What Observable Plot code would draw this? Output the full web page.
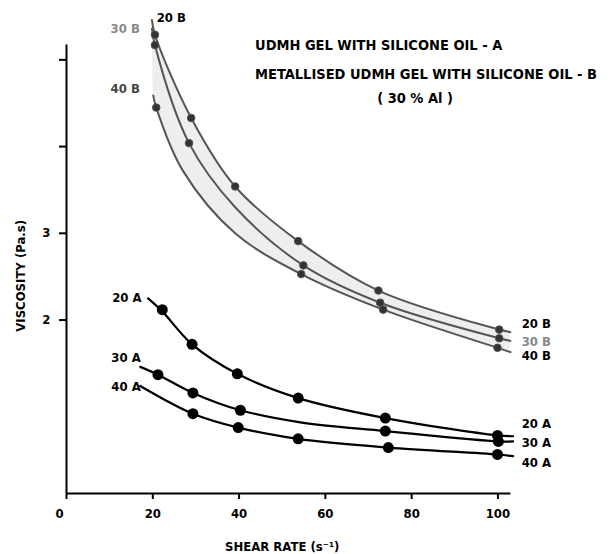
<!DOCTYPE html>
<html>
<head>
<meta charset="utf-8">
<script src="https://cdn.jsdelivr.net/npm/d3@7"></script>
<script src="https://cdn.jsdelivr.net/npm/@observablehq/plot@0.6"></script>
<style>
  html, body { margin: 0; padding: 0; background: #fff; }
  #chart svg { display: block; }
</style>
</head>
<body>
<div id="chart"></div>
<script>
// ---- axis ticks ----
const xTicks = [0, 20, 40, 60, 80, 100];
const yTicks = [2, 3, 4, 5];
const yTickLabels = {2: "2", 3: "3"};

// ---- B series (metallised UDMH gel) : measured markers ----
const b20X = [20.5, 28.9, 39.1, 53.7, 72.3, 100.3];
const b20Y = [5.29, 4.33, 3.54, 2.91, 2.34, 1.89];
const b30X = [20.5, 28.4, 54.9, 72.7, 100.3];
const b30Y = [5.17, 4.04, 2.63, 2.20, 1.79];
const b40X = [20.8, 54.4, 73.4, 99.9];
const b40Y = [4.45, 2.53, 2.12, 1.68];

// ---- B series : curve traces ----
const b20LineX = [19.8, 20.5, 28.9, 39.1, 53.7, 72.3, 100.3, 102.9];
const b20LineY = [5.46, 5.29, 4.33, 3.54, 2.91, 2.34, 1.89, 1.86];
const b30LineX = [19.8, 20.5, 28.4, 39.1, 54.9, 72.7, 100.3, 102.9];
const b30LineY = [5.36, 5.17, 4.04, 3.30, 2.63, 2.20, 1.79, 1.76];
const b40LineX = [20.1, 20.8, 27.0, 39.1, 54.4, 73.4, 99.9, 102.9];
const b40LineY = [4.59, 4.45, 3.72, 3.00, 2.53, 2.12, 1.68, 1.63];

// ---- A series (UDMH gel) : measured markers ----
const a20X = [22.2, 29.1, 39.6, 53.7, 73.9, 99.9];
const a20Y = [2.12, 1.72, 1.38, 1.10, 0.87, 0.67];
const a30X = [21.2, 29.3, 40.3, 73.9, 100.1];
const a30Y = [1.37, 1.16, 0.96, 0.72, 0.60];
const a40X = [29.3, 39.8, 53.7, 74.6, 99.9];
const a40Y = [0.92, 0.76, 0.63, 0.53, 0.45];

// ---- A series : curve traces ----
const a20LineX = [18.9, 22.2, 29.1, 39.6, 53.7, 73.9, 99.9, 103.5];
const a20LineY = [2.25, 2.10, 1.72, 1.38, 1.10, 0.87, 0.67, 0.66];
const a30LineX = [17.1, 21.2, 29.3, 40.3, 54.2, 73.9, 100.1, 103.5];
const a30LineY = [1.46, 1.37, 1.16, 0.96, 0.82, 0.72, 0.60, 0.60];
const a40LineX = [17.1, 29.3, 39.8, 53.7, 74.6, 99.9, 103.5];
const a40LineY = [1.24, 0.92, 0.76, 0.63, 0.53, 0.45, 0.43];

// ---- texts ----
const legendLines = [
  "UDMH GEL WITH SILICONE OIL - A",
  "METALLISED UDMH GEL WITH SILICONE OIL - B",
  "( 30 % Al )"
];
const xLabel = "SHEAR RATE (s\u207B\u00B9)";
const yLabel = "VISCOSITY (Pa.s)";
const seriesNames = ["20 B", "30 B", "40 B", "20 A", "30 A", "40 A"];

// ---- build tables ----
const rows = (xs, ys, s) => xs.map((x, i) => ({x, y: ys[i], s}));
const bLines = [
  ...rows(b20LineX, b20LineY, "20 B"),
  ...rows(b30LineX, b30LineY, "30 B"),
  ...rows(b40LineX, b40LineY, "40 B")
];
const aLines = [
  ...rows(a20LineX, a20LineY, "20 A"),
  ...rows(a30LineX, a30LineY, "30 A"),
  ...rows(a40LineX, a40LineY, "40 A")
];
const bDots = [
  ...rows(b20X, b20Y, "20 B"),
  ...rows(b30X, b30Y, "30 B"),
  ...rows(b40X, b40Y, "40 B")
];
const aDots = [
  ...rows(a20X, a20Y, "20 A"),
  ...rows(a30X, a30Y, "30 A"),
  ...rows(a40X, a40Y, "40 A")
];
// band between 20 B and 40 B curves
const band = b20LineX.map((x, i) => ({
  xa: x, ya: b20LineY[i], xb: b40LineX[i], yb: b40LineY[i]
}));

// series label positions (data units)
const endLabels = [
  {t: seriesNames[0], x: 105.5, y: 1.96, c: "#000"},
  {t: seriesNames[1], x: 105.5, y: 1.75, c: "#888"},
  {t: seriesNames[2], x: 105.5, y: 1.59, c: "#000"},
  {t: seriesNames[3], x: 105.5, y: 0.80, c: "#000"},
  {t: seriesNames[4], x: 105.5, y: 0.58, c: "#000"},
  {t: seriesNames[5], x: 105.5, y: 0.35, c: "#000"}
];
const startLabels = [
  {t: seriesNames[0], x: 24.3, y: 5.48, c: "#000"},
  {t: seriesNames[1], x: 13.6, y: 5.36, c: "#888"},
  {t: seriesNames[2], x: 13.6, y: 4.67, c: "#444"},
  {t: seriesNames[3], x: 14.0, y: 2.26, c: "#000"},
  {t: seriesNames[4], x: 13.8, y: 1.57, c: "#000"},
  {t: seriesNames[5], x: 13.8, y: 1.23, c: "#000"}
];
const legendStart = [
  {t: legendLines[0], x: 43.7, y: 5.17},
  {t: legendLines[1], x: 43.7, y: 4.83}
];
const legendMid = [
  {t: legendLines[2], x: 80.8, y: 4.56}
];

const FONT = "'DejaVu Sans Condensed', 'Liberation Sans Narrow', 'DejaVu Sans', sans-serif";
const CURVE = "catmull-rom";

const chart = Plot.plot({
  width: 613,
  height: 554,
  marginLeft: 66,
  marginRight: 94,
  marginTop: 16,
  marginBottom: 61,
  style: {fontFamily: FONT, fontWeight: "bold", fontSize: "13px", background: "#fff", color: "#000"},
  x: {domain: [0, 105], label: null},
  y: {domain: [0, 5.5], label: null},
  marks: [
    Plot.area(band, {x1: "xa", y1: "ya", x2: "xb", y2: "yb", curve: CURVE, fill: "#eeeeee"}),
    Plot.ruleX([0], {y1: 0, y2: 5.17, stroke: "#000", strokeWidth: 2}),
    Plot.ruleY([0], {x1: 0, x2: 103, stroke: "#000", strokeWidth: 2}),
    Plot.axisX({ticks: xTicks, tickSize: 6, tickPadding: 9, stroke: "#000", strokeWidth: 2, fontSize: 13,
      tickFormat: d => d === 0 ? "" : String(d), label: null}),
    Plot.axisX({ticks: [0], tickSize: 0, tickPadding: 15, dx: -7, fontSize: 13, tickFormat: d => String(d), label: null}),
    Plot.axisY({ticks: yTicks, tickSize: 7, tickPadding: 9, stroke: "#000", strokeWidth: 2, fontSize: 13,
      tickFormat: d => yTickLabels[d] ?? "", label: null}),
    Plot.line(bLines, {x: "x", y: "y", z: "s", curve: CURVE, stroke: "#555", strokeWidth: 2}),
    Plot.line(aLines, {x: "x", y: "y", z: "s", curve: CURVE, stroke: "#000", strokeWidth: 2.2}),
    Plot.dot(bDots, {x: "x", y: "y", r: 3.8, fill: "#333", stroke: "#555", strokeWidth: 1}),
    Plot.dot(aDots, {x: "x", y: "y", r: 5.5, fill: "#000"}),
    Plot.text(endLabels, {x: "x", y: "y", text: "t", fill: "c", textAnchor: "start", fontSize: 13, fontWeight: "bold"}),
    Plot.text(startLabels, {x: "x", y: "y", text: "t", fill: "c", textAnchor: "middle", fontSize: 13, fontWeight: "bold"}),
    Plot.text(legendStart, {x: "x", y: "y", text: "t", textAnchor: "start", fill: "#000", fontSize: 14.5, fontWeight: "bold"}),
    Plot.text(legendMid, {x: "x", y: "y", text: "t", textAnchor: "middle", fill: "#000", fontSize: 14.5, fontWeight: "bold"}),
    Plot.text([xLabel], {x: () => 50, y: () => 0, text: d => d, dy: 53, fontSize: 13, fontWeight: "bold", fill: "#000"}),
    Plot.text([yLabel], {x: () => -10.6, y: () => 2.51, text: d => d, rotate: -90, fontSize: 13, fontWeight: "bold", fill: "#000"})
  ]
});
document.getElementById("chart").appendChild(chart);
</script>
</body>
</html>
